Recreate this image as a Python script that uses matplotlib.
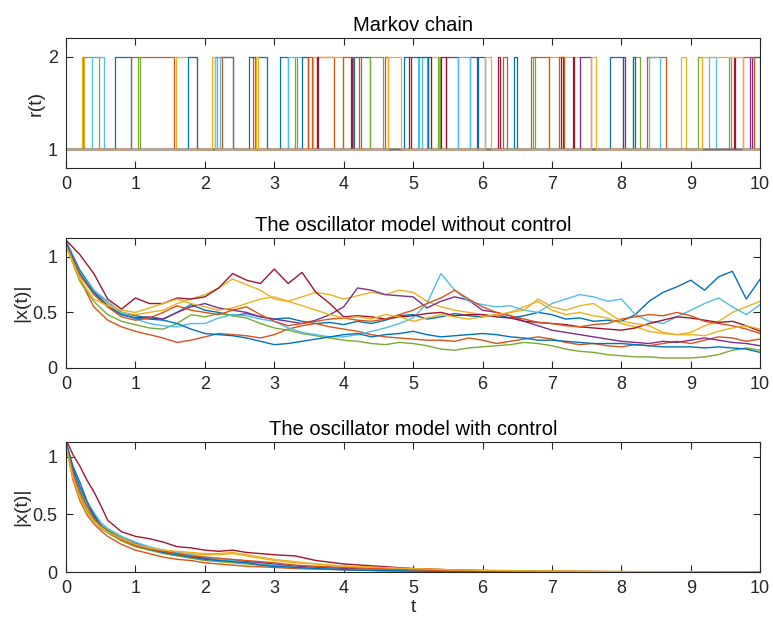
import numpy as np
import matplotlib
matplotlib.use('Agg')
import matplotlib.pyplot as plt

plt.rcParams['font.family'] = ['Liberation Sans', 'DejaVu Sans']

#colours---matlab default order-------------------------------------------------
colors = ['#0072BD', '#D95319', '#EDB120', '#7E2F8E', '#77AC30', '#4DBEEE',
          '#A2142F', '#0072BD', '#D95319', '#EDB120']

#markov chain---intervals spent in state 2--------------------------------------
chain0 = [[0.70, 0.93], [2.15, 2.41], [3.08, 3.20], [4.15, 4.38], [5.94, 6.03], [7.84, 8.02], [9.91, 10.0]]
chain1 = [[0.93, 1.55], [2.69, 2.72], [3.62, 3.86], [4.22, 4.25], [6.29, 6.36], [8.37, 8.64]]
chain2 = [[0.23, 0.26], [1.58, 1.88], [3.56, 3.99], [5.26, 5.38], [6.96, 7.40], [8.86, 8.93]]
chain3 = [[5.47, 5.65], [5.82, 5.92], [7.40, 7.56], [8.02, 8.05], [9.85, 9.88]]
chain4 = [[0.24, 0.47], [1.04, 1.07], [3.30, 3.33], [4.38, 4.57], [5.36, 5.39], [6.73, 6.76], [8.17, 8.27], [9.11, 9.16], [9.55, 9.58]]
chain5 = [[0.38, 0.55], [2.17, 2.22], [3.20, 3.49], [5.07, 5.09], [5.13, 5.20], [5.65, 5.82], [8.40, 8.55], [9.26, 9.37]]
chain6 = [[3.61, 3.63], [4.10, 4.12], [4.94, 4.97], [5.22, 5.26], [5.40, 5.48], [6.23, 6.25], [7.13, 7.16], [7.30, 7.32], [9.62, 9.64]]
chain7 = [[1.76, 1.88], [2.63, 2.89], [3.40, 3.49], [4.87, 5.22], [6.46, 6.50], [8.17, 8.20]]
chain8 = [[2.24, 2.41], [3.49, 3.54], [3.99, 4.13], [4.59, 4.64], [6.70, 6.96], [7.10, 7.18], [9.75, 9.91]]
chain9 = [[2.11, 2.15], [2.74, 2.77], [4.64, 4.83], [6.03, 6.12], [7.56, 7.63], [9.16, 9.75]]
chains = [chain0, chain1, chain2, chain3, chain4, chain5, chain6, chain7, chain8, chain9]

#without control---|x(t)| read every 0.2------------------------------------------
t2 = np.linspace(0, 10, 51)
x0 = [1.14, 0.88, 0.70, 0.58, 0.50, 0.47, 0.45, 0.44, 0.50, 0.57,
      0.52, 0.50, 0.47, 0.49, 0.46, 0.44, 0.45, 0.42, 0.40, 0.41,
      0.39, 0.42, 0.40, 0.43, 0.47, 0.48, 0.44, 0.46, 0.49, 0.47,
      0.46, 0.48, 0.45, 0.47, 0.50, 0.48, 0.44, 0.45, 0.42, 0.43,
      0.42, 0.48, 0.60, 0.68, 0.73, 0.79, 0.70, 0.82, 0.87, 0.62, 0.80]
x1 = [1.10, 0.80, 0.55, 0.43, 0.37, 0.33, 0.30, 0.27, 0.23, 0.25,
      0.28, 0.31, 0.30, 0.29, 0.27, 0.30, 0.35, 0.38, 0.40, 0.37,
      0.35, 0.33, 0.30, 0.28, 0.27, 0.26, 0.25, 0.25, 0.24, 0.27,
      0.25, 0.22, 0.24, 0.26, 0.28, 0.26, 0.23, 0.21, 0.22, 0.20,
      0.19, 0.21, 0.20, 0.22, 0.24, 0.22, 0.25, 0.28, 0.27, 0.24, 0.26]
x2 = [1.12, 0.82, 0.68, 0.58, 0.50, 0.48, 0.50, 0.52, 0.58, 0.62,
      0.66, 0.72, 0.80, 0.75, 0.70, 0.62, 0.60, 0.64, 0.68, 0.66,
      0.62, 0.65, 0.68, 0.66, 0.70, 0.68, 0.60, 0.55, 0.52, 0.50,
      0.48, 0.47, 0.50, 0.55, 0.60, 0.52, 0.48, 0.50, 0.47, 0.45,
      0.40, 0.37, 0.33, 0.31, 0.30, 0.32, 0.38, 0.42, 0.50, 0.55, 0.60]
x3 = [1.12, 0.85, 0.68, 0.55, 0.48, 0.45, 0.46, 0.44, 0.50, 0.55,
      0.58, 0.54, 0.52, 0.50, 0.46, 0.44, 0.42, 0.40, 0.43, 0.48,
      0.55, 0.72, 0.70, 0.66, 0.65, 0.64, 0.54, 0.60, 0.64, 0.61,
      0.52, 0.50, 0.47, 0.42, 0.38, 0.34, 0.32, 0.30, 0.28, 0.26,
      0.24, 0.23, 0.22, 0.24, 0.23, 0.25, 0.27, 0.25, 0.23, 0.22, 0.20]
x4 = [1.10, 0.78, 0.60, 0.48, 0.42, 0.39, 0.36, 0.35, 0.40, 0.48,
      0.46, 0.49, 0.47, 0.45, 0.40, 0.36, 0.34, 0.31, 0.29, 0.27,
      0.25, 0.24, 0.22, 0.21, 0.23, 0.22, 0.20, 0.17, 0.16, 0.18,
      0.19, 0.20, 0.21, 0.23, 0.22, 0.20, 0.17, 0.15, 0.14, 0.12,
      0.11, 0.10, 0.10, 0.09, 0.09, 0.09, 0.10, 0.12, 0.16, 0.18, 0.16]
x5 = [1.13, 0.86, 0.70, 0.60, 0.50, 0.44, 0.40, 0.38, 0.37, 0.40,
      0.40, 0.45, 0.48, 0.47, 0.44, 0.42, 0.36, 0.32, 0.30, 0.28,
      0.28, 0.30, 0.33, 0.36, 0.40, 0.45, 0.58, 0.85, 0.70, 0.60,
      0.57, 0.55, 0.56, 0.52, 0.50, 0.58, 0.62, 0.66, 0.64, 0.60,
      0.62, 0.48, 0.42, 0.40, 0.46, 0.52, 0.58, 0.63, 0.55, 0.48, 0.57]
x6 = [1.15, 1.02, 0.85, 0.62, 0.53, 0.63, 0.58, 0.58, 0.63, 0.62,
      0.64, 0.72, 0.85, 0.79, 0.76, 0.89, 0.76, 0.86, 0.68, 0.58,
      0.46, 0.47, 0.46, 0.44, 0.46, 0.47, 0.49, 0.50, 0.47, 0.48,
      0.48, 0.46, 0.45, 0.42, 0.41, 0.40, 0.39, 0.37, 0.36, 0.35,
      0.34, 0.36, 0.40, 0.43, 0.46, 0.45, 0.43, 0.41, 0.42, 0.38, 0.33]
x7 = [1.13, 0.85, 0.68, 0.56, 0.48, 0.45, 0.44, 0.43, 0.40, 0.35,
      0.31, 0.30, 0.29, 0.27, 0.24, 0.21, 0.22, 0.24, 0.26, 0.28,
      0.30, 0.31, 0.28, 0.30, 0.31, 0.33, 0.30, 0.28, 0.29, 0.30,
      0.31, 0.30, 0.28, 0.27, 0.25, 0.25, 0.24, 0.23, 0.22, 0.22,
      0.22, 0.21, 0.20, 0.19, 0.19, 0.19, 0.18, 0.19, 0.18, 0.17, 0.14]
x8 = [1.11, 0.84, 0.66, 0.55, 0.46, 0.43, 0.45, 0.50, 0.56, 0.52,
      0.50, 0.48, 0.52, 0.55, 0.48, 0.42, 0.38, 0.40, 0.42, 0.44,
      0.45, 0.43, 0.42, 0.44, 0.48, 0.52, 0.58, 0.63, 0.70, 0.62,
      0.55, 0.50, 0.47, 0.44, 0.41, 0.40, 0.38, 0.37, 0.39, 0.40,
      0.44, 0.46, 0.48, 0.47, 0.50, 0.47, 0.42, 0.40, 0.38, 0.35, 0.31]
x9 = [1.10, 0.80, 0.62, 0.56, 0.52, 0.50, 0.54, 0.58, 0.62, 0.58,
      0.55, 0.52, 0.54, 0.58, 0.62, 0.64, 0.60, 0.56, 0.52, 0.48,
      0.45, 0.46, 0.44, 0.48, 0.46, 0.42, 0.45, 0.48, 0.46, 0.44,
      0.46, 0.48, 0.50, 0.52, 0.62, 0.55, 0.52, 0.56, 0.58, 0.50,
      0.42, 0.40, 0.38, 0.32, 0.30, 0.30, 0.29, 0.33, 0.36, 0.38, 0.35]
free = [x0, x1, x2, x3, x4, x5, x6, x7, x8, x9]

#with control---|x(t)|------------------------------------------------------------
t3 = [0, 0.1, 0.2, 0.3, 0.4, 0.5, 0.6, 0.8, 1.0, 1.2, 1.4, 1.6, 1.8, 2.0, 2.2,
      2.4, 2.6, 2.8, 3.0, 3.3, 3.6, 4.0, 4.5, 5.0, 5.5, 6.0, 7.0, 8.0, 10.0]
c0 = [1.13, 0.90, 0.74, 0.60, 0.50, 0.42, 0.37, 0.30, 0.25, 0.21, 0.18, 0.16, 0.14, 0.12, 0.11, 0.10, 0.09, 0.08, 0.06, 0.05, 0.04, 0.03, 0.02, 0.015, 0.010, 0.006, 0.003, 0.001, 0.0]
c1 = [1.10, 0.80, 0.62, 0.50, 0.42, 0.36, 0.31, 0.24, 0.19, 0.16, 0.13, 0.11, 0.10, 0.08, 0.07, 0.06, 0.05, 0.045, 0.04, 0.03, 0.025, 0.02, 0.012, 0.008, 0.005, 0.003, 0.001, 0.0, 0.0]
c2 = [1.12, 0.85, 0.68, 0.55, 0.47, 0.41, 0.37, 0.30, 0.24, 0.21, 0.19, 0.17, 0.16, 0.15, 0.15, 0.16, 0.14, 0.12, 0.10, 0.08, 0.07, 0.05, 0.04, 0.03, 0.02, 0.015, 0.007, 0.003, 0.0]
c3 = [1.12, 0.88, 0.70, 0.58, 0.48, 0.40, 0.35, 0.29, 0.24, 0.20, 0.17, 0.15, 0.13, 0.12, 0.11, 0.10, 0.09, 0.08, 0.07, 0.05, 0.04, 0.03, 0.02, 0.012, 0.008, 0.005, 0.002, 0.001, 0.0]
c4 = [1.11, 0.84, 0.66, 0.54, 0.45, 0.38, 0.34, 0.27, 0.22, 0.19, 0.16, 0.14, 0.12, 0.10, 0.09, 0.08, 0.07, 0.06, 0.05, 0.04, 0.03, 0.02, 0.015, 0.010, 0.006, 0.004, 0.002, 0.001, 0.0]
c5 = [1.13, 0.86, 0.70, 0.60, 0.52, 0.43, 0.38, 0.31, 0.26, 0.22, 0.19, 0.17, 0.15, 0.13, 0.11, 0.10, 0.08, 0.07, 0.06, 0.04, 0.03, 0.02, 0.015, 0.010, 0.006, 0.004, 0.002, 0.001, 0.0]
c6 = [1.15, 1.02, 0.92, 0.80, 0.70, 0.58, 0.45, 0.35, 0.31, 0.29, 0.26, 0.22, 0.21, 0.19, 0.18, 0.19, 0.17, 0.16, 0.15, 0.14, 0.10, 0.07, 0.05, 0.03, 0.02, 0.012, 0.006, 0.003, 0.0]
c7 = [1.13, 0.92, 0.78, 0.62, 0.50, 0.40, 0.36, 0.29, 0.23, 0.20, 0.17, 0.15, 0.13, 0.11, 0.10, 0.09, 0.08, 0.06, 0.05, 0.04, 0.03, 0.02, 0.012, 0.008, 0.005, 0.003, 0.001, 0.0, 0.0]
c8 = [1.11, 0.86, 0.70, 0.58, 0.47, 0.40, 0.35, 0.28, 0.23, 0.20, 0.18, 0.16, 0.14, 0.13, 0.12, 0.11, 0.10, 0.09, 0.08, 0.06, 0.05, 0.04, 0.03, 0.02, 0.012, 0.008, 0.004, 0.002, 0.0]
c9 = [1.10, 0.82, 0.64, 0.52, 0.44, 0.39, 0.35, 0.29, 0.24, 0.21, 0.19, 0.18, 0.17, 0.16, 0.16, 0.17, 0.15, 0.13, 0.11, 0.09, 0.07, 0.05, 0.04, 0.03, 0.02, 0.015, 0.008, 0.004, 0.0]
ctrl = [c0, c1, c2, c3, c4, c5, c6, c7, c8, c9]

#figure------------------------------------------------------------------------
fig = plt.figure(figsize=(7.73, 6.2), dpi=100)
ax1 = fig.add_axes([0.0854, 0.729, 0.898, 0.2097])
ax2 = fig.add_axes([0.0854, 0.4065, 0.898, 0.2097])
ax3 = fig.add_axes([0.0854, 0.0774, 0.898, 0.2097])

for i, ch in enumerate(chains):
    tt = [0.0]
    rr = [1]
    for a, b in ch:
        tt += [a, b]
        rr += [2, 1]
    tt.append(10.0)
    rr.append(rr[-1])
    ax1.step(tt, rr, where='post', color=colors[i], lw=0.9)

for i, xx in enumerate(free):
    ax2.plot(t2, xx, color=colors[i], lw=1.0)

for i, xx in enumerate(ctrl):
    ax3.plot(t3, xx, color=colors[i], lw=1.0)

def style(ax, title, ylab, yt, ytl, ylim):
    ax.set_xlim(0, 10)
    ax.set_ylim(*ylim)
    ax.set_xticks(range(11))
    ax.set_yticks(yt)
    ax.set_yticklabels(ytl)
    ax.set_title(title, fontsize=14.5, color='#000000', pad=5)
    ax.set_ylabel(ylab, fontsize=14, color='#262626', labelpad=2)
    ax.tick_params(direction='in', length=5, width=0.8, top=True, right=True,
                   labelsize=13, colors='#262626', pad=6)
    for s in ax.spines.values():
        s.set_color('#262626')
        s.set_linewidth(0.8)

style(ax1, 'Markov chain', 'r(t)', [1, 2], ['1', '2'], (0.8, 2.2))
style(ax2, 'The oscillator model without control', '|x(t)|', [0, 0.5, 1], ['0', '0.5', '1'], (0, 1.17))
style(ax3, 'The oscillator model with control', '|x(t)|', [0, 0.5, 1], ['0', '0.5', '1'], (0, 1.13))
ax3.set_xlabel('t', fontsize=14, color='#262626', labelpad=1)

fig.savefig('out.png', dpi=100)
